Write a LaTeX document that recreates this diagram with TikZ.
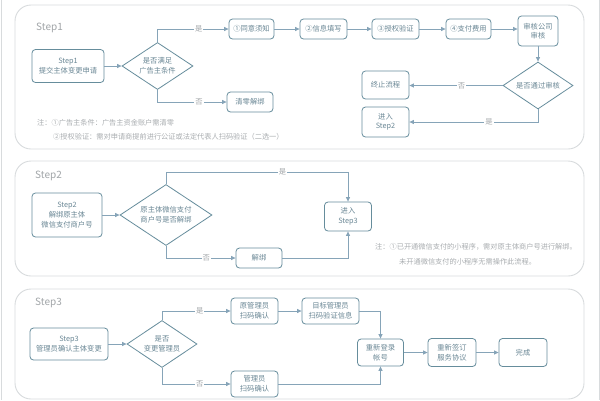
\documentclass[tikz,border=0pt]{standalone}
\usepackage{fontspec}
\setmainfont{Noto Sans CJK SC}
\usetikzlibrary{shapes.geometric,arrows.meta}
\definecolor{boxline}{HTML}{668D9C}
\definecolor{boxtext}{HTML}{6A8795}
\definecolor{arrcol}{HTML}{86A4B8}
\definecolor{panelline}{HTML}{D8DBDD}
\definecolor{notetext}{HTML}{A9ADB0}
\definecolor{steptext}{HTML}{A2A6A9}
\tikzset{
  panel/.style={draw=panelline, line width=0.9pt, rounded corners=16pt},
  box/.style={draw=boxline, line width=0.8pt, rounded corners=3.5pt, fill=white, text=boxtext,
    align=center, inner sep=1pt, font=\fontsize{7.3}{9.6}\selectfont},
  dia/.style={diamond, draw=boxline, line width=0.8pt, fill=white, text=boxtext, align=center,
    inner sep=0pt, shape aspect=1.5, font=\fontsize{7.3}{9.6}\selectfont},
  arr/.style={draw=arrcol, line width=0.75pt, -{Triangle[length=4.5pt,width=4pt]}},
  ln/.style={draw=arrcol, line width=0.75pt},
  lbl/.style={fill=white, text=steptext, inner sep=1pt, font=\fontsize{7.3}{9}\selectfont},
  note/.style={anchor=west, text=notetext, inner sep=0pt, font=\fontsize{7.2}{9}\selectfont},
  steplbl/.style={anchor=west, text=steptext, inner sep=0pt, font=\fontsize{10}{12}\selectfont}
}
\begin{document}
\begin{tikzpicture}[x=1pt,y=-1pt]
\useasboundingbox (0,0) rectangle (600,400);
\fill[white] (0,0) rectangle (600,400);
\draw[panelline, line width=0.8pt] (1,0) -- (1,400) (599,0) -- (599,400);
% panels
\draw[panel] (15,5) rectangle (584,149);
\draw[panel] (15,161) rectangle (584,276);
\draw[panel] (15,289) rectangle (584,399);

% ---------------- Step1
\node[steplbl] (t1) at (36,28) {Step1};
\node[box, minimum width=72pt, minimum height=33pt] (s1) at (68,66) {Step1\\提交主体变更申请};
\node[dia, minimum width=71pt, minimum height=47pt] (d1) at (157.5,66) {是否满足\\广告主条件};
\node[box, minimum width=45pt, minimum height=20pt] (a1) at (251.5,29) {①同意须知};
\node[box, minimum width=47pt, minimum height=20pt] (a2) at (323.5,29) {②信息填写};
\node[box, minimum width=47pt, minimum height=20pt] (a3) at (395.5,29) {③授权验证};
\node[box, minimum width=45pt, minimum height=20pt] (a4) at (468.5,29) {④支付费用};
\node[box, minimum width=40pt, minimum height=30pt] (a5) at (538,31) {审核公司\\审核};
\node[dia, minimum width=70pt, minimum height=47pt] (d2) at (538,85.5) {是否通过审核};
\node[box, minimum width=47pt, minimum height=28pt] (stop) at (385.5,85) {终止流程};
\node[box, minimum width=47pt, minimum height=30pt] (go2) at (385.5,122) {进入\\Step2};
\node[box, minimum width=46pt, minimum height=20pt] (clr) at (250,102) {清零解绑};
\draw[arr] (s1.east) -- (d1.west);
\draw[arr] (d1.north) |- node[lbl, pos=0.79] {是} (a1.west);
\draw[arr] (d1.south) |- node[lbl, pos=0.8] {否} (clr.west);
\draw[arr] (a1.east) -- (a2.west);
\draw[arr] (a2.east) -- (a3.west);
\draw[arr] (a3.east) -- (a4.west);
\draw[arr] (a4.east) -- (a4.east -| a5.west);
\draw[arr] (a5.south) -- (d2.north);
\draw[arr] (d2.west) -- node[lbl, pos=0.44] {否} (d2.west -| stop.east);
\draw[arr] (d2.south) |- node[lbl, pos=0.69] {是} (go2.east);
\node[note] (n1) at (37,123) {注：①广告主条件：广告主资金账户需清零};
\node[note] (n2) at (53,137) {②授权验证：需对申请商提前进行公证或法定代表人扫码验证（二选一）};

% ---------------- Step2
\node[steplbl] (t2) at (35,176) {Step2};
\node[box, minimum width=70pt, minimum height=44pt] (s2) at (67,215) {Step2\\解绑原主体\\微信支付商户号};
\node[dia, minimum width=92pt, minimum height=61pt] (d3) at (166,215) {原主体微信支付\\商户号是否解绑};
\node[box, minimum width=46pt, minimum height=20pt] (unb) at (259,258) {解绑};
\node[box, minimum width=47pt, minimum height=29pt] (go3) at (348,216.5) {进入\\Step3};
\coordinate (c2) at (348,172);
\draw[arr] (s2.east) -- (s2.east -| d3.west);
\draw[ln] (d3.north) |- node[lbl, pos=0.82] {是} (c2);
\draw[arr] (c2) -- (go3.north);
\draw[arr] (d3.south) |- node[lbl, pos=0.79] {否} (unb.west);
\draw[arr] (unb.east) -| (go3.south);
\node[note] (n3) at (375,247) {注：①已开通微信支付的小程序，需对原主体商户号进行解绑。};
\node[note] (n4) at (399,262) {未开通微信支付的小程序无需操作此流程。};

% ---------------- Step3
\node[steplbl] (t3) at (35,303) {Step3};
\node[box, minimum width=78pt, minimum height=32pt] (s3) at (69,344) {Step3\\管理员确认主体变更};
\node[dia, minimum width=70pt, minimum height=47pt] (d4) at (162,344) {是否\\变更管理员};
\node[box, minimum width=47pt, minimum height=26pt] (y1) at (254.5,311) {原管理员\\扫码确认};
\node[box, minimum width=47pt, minimum height=26pt] (m1) at (254.5,384) {管理员\\扫码确认};
\node[box, minimum width=57pt, minimum height=26pt] (tg) at (330.5,311) {目标管理员\\扫码验证信息};
\node[box, minimum width=46pt, minimum height=27pt] (rl) at (380.5,352.5) {重新登录\\帐号};
\node[box, minimum width=48pt, minimum height=28pt] (sg) at (452,352.5) {重新签订\\服务协议};
\node[box, minimum width=48pt, minimum height=28pt] (dn) at (523,352.5) {完成};
\draw[arr] (s3.east) -- (d4.west);
\draw[arr] (d4.north) |- node[lbl, pos=0.775] {是} (y1.west);
\draw[arr] (d4.south) |- node[lbl, pos=0.775] {否} (m1.west);
\draw[arr] (y1.east) -- (tg.west);
\draw[arr] (tg.east) -| (rl.north);
\draw[arr] (m1.east) -| (rl.south);
\draw[arr] (rl.east) -- (sg.west);
\draw[arr] (sg.east) -- (dn.west);
\end{tikzpicture}
\end{document}
